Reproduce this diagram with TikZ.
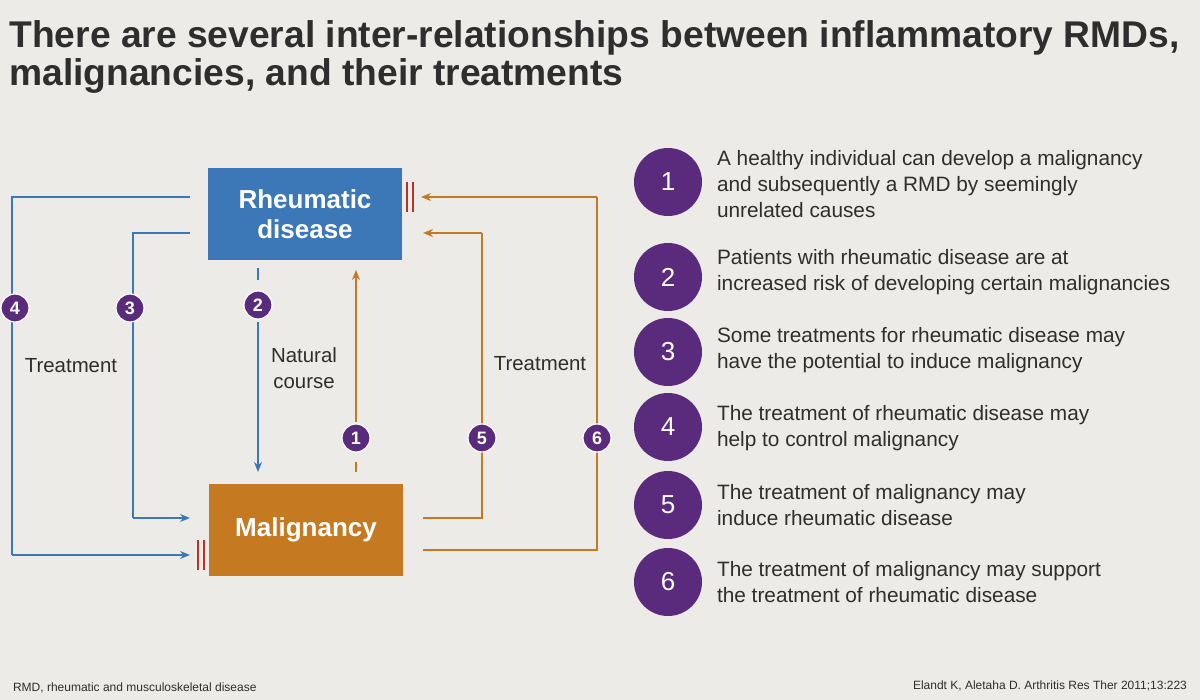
\documentclass[tikz,border=0pt]{standalone}
\usepackage{fontspec}
\setmainfont{Liberation Sans}
\usetikzlibrary{arrows.meta}
\definecolor{bg}{HTML}{ECEBE7}
\definecolor{rblue}{HTML}{3C78B8}
\definecolor{morange}{HTML}{C57A22}
\definecolor{purp}{HTML}{5A2A7C}
\definecolor{ttl}{HTML}{2E2E2E}
\definecolor{barred}{HTML}{B8322A}
\begin{document}
\begin{tikzpicture}[x=0.5pt,y=-0.5pt,
 box/.style={draw=none,minimum width=97pt,minimum height=46pt,text=white,font=\bfseries\fontsize{13}{15}\selectfont,align=center},
 sc/.style={circle,fill=purp,draw=white,line width=0.6pt,minimum size=14pt,inner sep=0pt,text=white,font=\bfseries\fontsize{9}{9}\selectfont},
 bc/.style={circle,fill=purp,minimum size=34pt,inner sep=0pt,text=white,font=\fontsize{13}{13}\selectfont},
 item/.style={anchor=west,align=left,text=ttl,font=\fontsize{10.4}{13}\selectfont},
 lbl/.style={text=ttl,font=\fontsize{10.2}{13}\selectfont,align=center},
 bl/.style={rblue,line width=1.2pt},
 ol/.style={morange,line width=1.2pt},
 arr/.style={-{Stealth[length=5pt,width=4pt]}}]
\useasboundingbox (0,0) rectangle (1200,700);
\fill[bg] (0,0) rectangle (1200,700);
\node[anchor=north west,align=left,text=ttl,inner sep=0pt,font=\bfseries\fontsize{18.6}{19}\selectfont] (title) at (9,20) {There are several inter-relationships between inflammatory RMDs,\\malignancies, and their treatments};
\node[box,fill=rblue] (rd) at (305,214) {Rheumatic\\disease};
\node[box,fill=morange] (mg) at (306,530) {Malignancy};
\coordinate (a4) at (12,197); \coordinate (b4) at (12,555); \coordinate (e4) at (190,555);
\coordinate (a3) at (133,233); \coordinate (b3) at (133,518); \coordinate (e3) at (190,518);
\draw[bl] (190,197) -- (a4) -- (b4);
\draw[bl,arr] (b4) -- (e4);
\draw[bl] (190,233) -- (a3) -- (b3);
\draw[bl,arr] (b3) -- (e3);
\draw[barred,line width=1.2pt] (198,540)--(198,570) (204,540)--(204,570);
\draw[bl] (258,268)--(258,280);
\draw[bl,arr] (258,322)--(258,472);
\draw[ol,arr] (356,422)--(356,270);
\draw[ol] (356,462)--(356,472);
\draw[ol] (423,518)--(482,518)--(482,233);
\draw[ol,arr] (482,233)--(423,233);
\draw[ol] (423,550)--(597,550)--(597,197);
\draw[ol,arr] (597,197)--(421,197);
\draw[barred,line width=1.2pt] (407,182)--(407,212) (413,182)--(413,212);
\node[sc] (c4) at (15,308) {4};
\node[sc] (c3) at (130,308) {3};
\node[sc] (c2) at (258,305) {2};
\node[sc] (c1) at (356,438) {1};
\node[sc] (c5) at (482,438) {5};
\node[sc] (c6) at (597,438) {6};
\node[lbl] (t1) at (71,366) {Treatment};
\node[lbl] (nc) at (304,368) {Natural\\course};
\node[lbl] (t2) at (540,364) {Treatment};
\node[bc] (n1) at (668,182) {1};
\node[item] at (710,184) {A healthy individual can develop a malignancy\\and subsequently a RMD by seemingly\\unrelated causes};
\node[bc] (n2) at (668,277) {2};
\node[item] at (710,272) {Patients with rheumatic disease are at\\increased risk of developing certain malignancies};
\node[bc] (n3) at (668,352) {3};
\node[item] at (710,350) {Some treatments for rheumatic disease may\\have the potential to induce malignancy};
\node[bc] (n4) at (668,427) {4};
\node[item] at (710,428) {The treatment of rheumatic disease may\\help to control malignancy};
\node[bc] (n5) at (668,505) {5};
\node[item] at (710,505) {The treatment of malignancy may\\induce rheumatic disease};
\node[bc] (n6) at (668,582) {6};
\node[item] at (710,582) {The treatment of malignancy may support\\the treatment of rheumatic disease};
\node[anchor=west,text=ttl,font=\fontsize{6}{7}\selectfont] (f1) at (6,688) {RMD, rheumatic and musculoskeletal disease};
\node[anchor=east,text=ttl,font=\fontsize{6}{7}\selectfont] (f2) at (1194,686) {Elandt K, Aletaha D. Arthritis Res Ther 2011;13:223};
\end{tikzpicture}
\end{document}
